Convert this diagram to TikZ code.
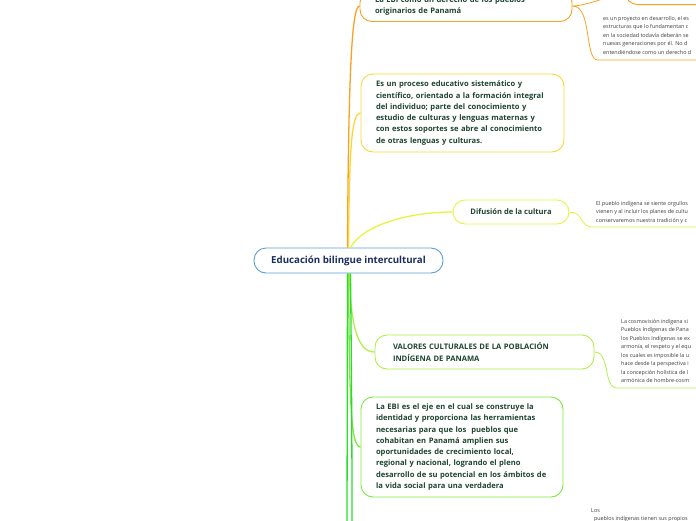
\documentclass[tikz,border=0pt]{standalone}
\usepackage{fontspec}
\setmainfont{Open Sans}
\definecolor{naranja}{RGB}{247,162,35}
\definecolor{amarillo}{RGB}{250,215,55}
\definecolor{limon}{RGB}{228,245,60}
\definecolor{verdeclaro}{RGB}{175,240,70}
\definecolor{verde}{RGB}{125,232,60}
\definecolor{verdevivo}{RGB}{40,222,40}
\definecolor{azul}{RGB}{90,160,215}
\definecolor{marino}{RGB}{25,45,95}
\definecolor{textoverde}{RGB}{30,68,48}
\definecolor{gris}{RGB}{60,60,60}
\begin{document}
\begin{tikzpicture}[x=1pt, y=-1pt,
  caja/.style={draw, rounded corners=12pt, line width=0.9pt, fill=white,
    inner xsep=15pt, inner ysep=3pt, align=left,
    font=\fontsize{7.6}{11.3}\selectfont\bfseries, text=textoverde},
  nota/.style={anchor=north west, inner sep=0pt, align=left,
    font=\fontsize{5.4}{8.5}\selectfont, text=gris},
  rama/.style={line width=1.3pt},
  sub/.style={line width=0.8pt}
]
\useasboundingbox (0,0) rectangle (696,520);
\clip (0,0) rectangle (696,520);

% nodo central
\node[caja, draw=azul, text=marino, align=center, minimum width=189pt, minimum height=25pt,
  font=\fontsize{9.7}{11}\selectfont\bfseries] (central) at (348.5,260.5) {Educación bilingue intercultural};

% ramas
\node[caja, draw=naranja, minimum width=212pt, minimum height=31pt, text width=182pt] (derecho) at (466,6)
  {La EBI como un derecho de los pueblos\\originarios de Panamá};
\node[caja, draw=amarillo, minimum width=203pt, minimum height=78pt, text width=173pt] (proceso) at (462.5,113)
  {Es un proceso educativo sistemático y\\científico, orientado a la formación integral\\del individuo; parte del conocimiento y\\estudio de culturas y lenguas maternas y\\con estos soportes se abre al conocimiento\\de otras lenguas y culturas.};
\node[caja, draw=limon, align=center, minimum width=116pt, minimum height=24pt] (difusion) at (511,212)
  {Difusión de la cultura};
\node[caja, draw=verdeclaro, minimum width=213pt, minimum height=34pt, text width=183pt, inner xsep=18pt] (valores) at (484.5,352)
  {VALORES CULTURALES DE LA POBLACIÓN\\INDÍGENA DE PANAMA};
\node[caja, draw=verde, minimum width=202pt, minimum height=100pt, text width=172pt] (eje) at (462,447)
  {La EBI es el eje en el cual se construye la\\identidad y proporciona las herramientas\\necesarias para que los\ \ pueblos que\\cohabitan en Panamá amplien sus\\oportunidades de crecimiento local,\\regional y nacional, logrando el pleno\\desarrollo de su potencial en los ámbitos de\\la vida social para una verdadera};

% subtemas
\node[caja, draw=naranja, anchor=south west, minimum width=100pt, minimum height=22pt] (situacion) at (625,5) {};
\node[nota] (proyecto) at (603,16)
  {es un proyecto en desarrollo, el es\\estructuras que lo fundamentan c\\en la sociedad todavía deberán se\\nuevas generaciones por él. No d\\entendiéndose como un derecho d};
\node[nota] (orgullo) at (596,201)
  {El pueblo indígena se siente orgullos\\vienen y al incluir los planes de cultu\\conservaremos nuestra tradición y c};
\node[nota] (cosmovision) at (621,319)
  {La cosmovisión indígena si\\Pueblos Indígenas de Pana\\los Pueblos Indígenas se ex\\armonía, el respeto y el equ\\los cuales es imposible la u\\hace desde la perspectiva i\\la concepción holística de l\\armónica de hombre-cosm};
\node[nota] (propios) at (591,508)
  {Los\\\ \ pueblos indígenas tienen sus propios};

\coordinate (u1) at (598,60);   \coordinate (u1e) at (700,60);
\coordinate (u2) at (592,227);  \coordinate (u2e) at (700,227);
\coordinate (u3) at (617,388);  \coordinate (u3e) at (700,388);
\coordinate (sigA) at (347,530); \coordinate (sigB) at (352,530);

% conectores
\draw[rama, naranja] ([xshift=-1pt]central.north) .. controls +(1,-170) and +(-8,0) .. (derecho.west);
\draw[rama, amarillo] (central.north) .. controls +(1,-90) and +(-10,0) .. (proceso.west);
\draw[rama, limon] ([xshift=2pt]central.north) .. controls +(12,-22) and +(-45,0) .. (difusion.west);
\draw[rama, verdeclaro] ([xshift=1pt]central.south) .. controls +(1,55) and +(-16,0) .. (valores.west);
\draw[rama, verde] (central.south) .. controls +(1,130) and +(-10,0) .. (eje.west);
\draw[rama, verdevivo] ([xshift=-1pt]central.south) -- (sigA);
\draw[rama, verdevivo] ([xshift=2pt]central.south) .. controls +(1,100) and +(0,-100) .. (sigB);
\draw[sub, naranja] (derecho.east) .. controls +(14,0) and +(-10,0) .. (situacion.west);
\draw[sub, naranja] (derecho.east) .. controls +(20,0) and +(-14,0) .. (u1) -- (u1e);
\draw[sub, limon] (difusion.east) .. controls +(14,0) and +(-12,0) .. (u2) -- (u2e);
\draw[sub, verdeclaro] (valores.east) .. controls +(16,0) and +(-14,0) .. (u3) -- (u3e);
\end{tikzpicture}
\end{document}
